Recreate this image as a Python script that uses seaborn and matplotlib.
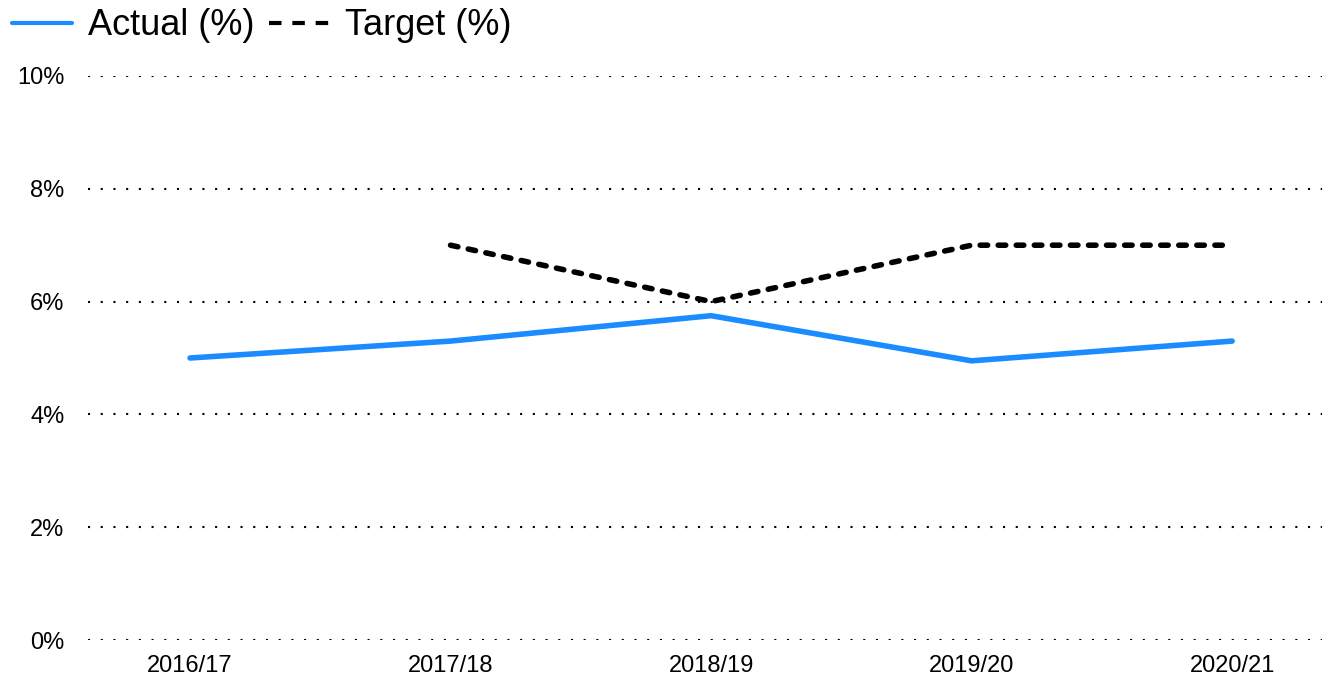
import matplotlib
matplotlib.use("Agg")
import matplotlib.pyplot as plt
from matplotlib.lines import Line2D
import seaborn as sns
import numpy as np
import pandas as pd

years = ["2016/17", "2017/18", "2018/19", "2019/20", "2020/21"]
actual = [5.0, 5.3, 5.75, 4.95, 5.3]
target = [np.nan, 7.0, 6.0, 7.0, 7.0]

df = pd.DataFrame({"pos": range(len(years)), "year": years,
                   "Actual (%)": actual, "Target (%)": target})

sns.set_theme(style="white")
plt.rcParams["font.family"] = ["Liberation Sans", "DejaVu Sans"]
plt.rcParams["text.color"] = "black"

fig = plt.figure(figsize=(13.32, 6.81), dpi=100)
ax = fig.add_axes([0.066, 0.0602, 0.9265, 0.8282])

sns.lineplot(data=df, x="pos", y="Actual (%)", ax=ax, color="#1a8cff",
             linewidth=4.0, solid_capstyle="round", solid_joinstyle="round")
sns.lineplot(data=df.dropna(), x="pos", y="Target (%)", ax=ax, color="black",
             linewidth=4.0, linestyle=(0, (1.35, 1.9)),
             dash_capstyle="round", dash_joinstyle="round")

ax.set_xlim(-0.392, 4.345)
ax.set_ylim(0, 10)
ax.set_xticks(range(len(years)))
ax.set_xticklabels(years)
ax.set_yticks(range(0, 11, 2))
ax.set_yticklabels([f"{v}%" for v in range(0, 11, 2)])
ax.set_xlabel("")
ax.set_ylabel("")
ax.tick_params(axis="both", length=0, labelsize=17, colors="black")
ax.tick_params(axis="y", pad=17)
ax.tick_params(axis="x", pad=11)
ax.grid(True, axis="y", color="black", linewidth=1.5, linestyle=(0, (1, 5.1)))
ax.grid(False, axis="x")
ax.set_axisbelow(True)
for s in ax.spines.values():
    s.set_visible(False)

# legend handles drawn a bit thinner, like the original
handles = [
    Line2D([], [], color="#1a8cff", linewidth=3.0),
    Line2D([], [], color="black", linewidth=3.0, linestyle=(0, (3.0, 2.6)),
           dash_capstyle="butt"),
]
leg = fig.legend(handles, ["Actual (%)", "Target (%)"], loc="center left",
                 bbox_to_anchor=(0.009, 0.962), ncol=2, frameon=False,
                 fontsize=26, handlelength=1.67, handletextpad=0.44,
                 columnspacing=0.4, borderpad=0, borderaxespad=0)
for t in leg.get_texts():
    t.set_color("black")

fig.savefig("out.png", dpi=100)
